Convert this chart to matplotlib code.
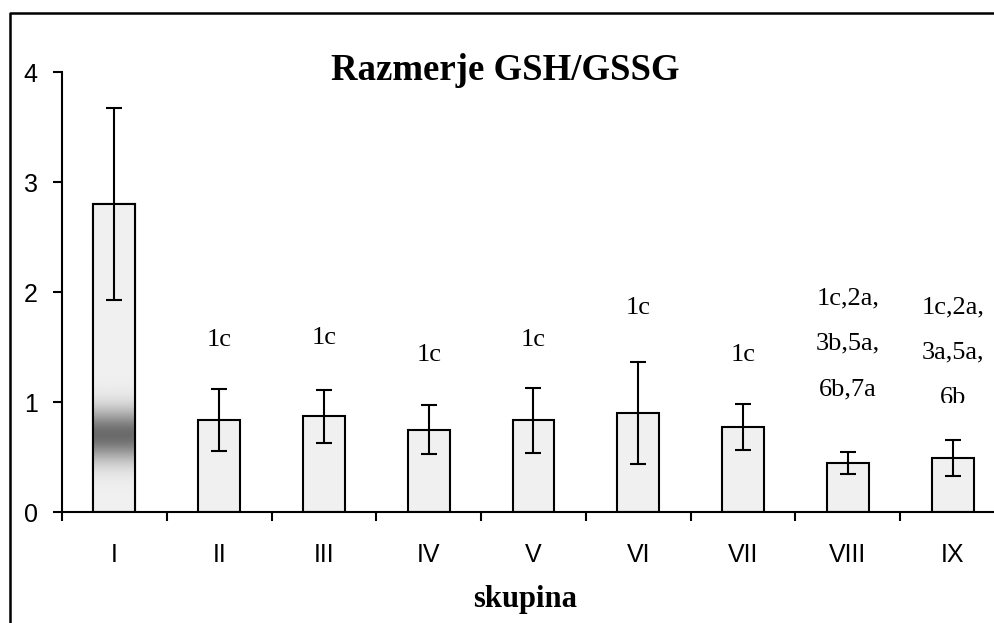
import matplotlib.pyplot as plt
import numpy as np
from matplotlib.lines import Line2D
from matplotlib.transforms import Bbox, TransformedBbox

# Data
groups = ["I", "II", "III", "IV", "V", "VI", "VII", "VIII", "IX"]
ratio = [2.80, 0.835, 0.87, 0.75, 0.835, 0.90, 0.77, 0.445, 0.49]
sd = [0.87, 0.28, 0.24, 0.22, 0.295, 0.46, 0.21, 0.10, 0.165]
labels = ["", "1c", "1c", "1c", "1c", "1c", "1c",
          "1c,2a,\n3b,5a,\n6b,7a", "1c,2a,\n3a,5a,\n6b"]
label_y = [0, 1.56, 1.58, 1.43, 1.56, 1.85, 1.43, 1.53, 1.45]

serif = ["Liberation Serif", "DejaVu Serif"]
sans = ["Liberation Sans", "DejaVu Sans"]

fig = plt.figure(figsize=(9.95, 6.23), dpi=100)
ax = fig.add_axes([62 / 995, 111 / 623, 943 / 995, 440 / 623])

x = np.arange(len(groups))
bars = ax.bar(x, ratio, width=0.4, color="#f0f0f0", edgecolor="black",
              linewidth=1.5, zorder=2)
ax.errorbar(x, ratio, yerr=sd, fmt="none", ecolor="black", elinewidth=1.5,
            capsize=6, capthick=1.5, zorder=4)

# gradient band inside the first bar
b0 = bars[0]
yy = np.linspace(0, b0.get_height(), 400)
shade = 0.94 - 0.52 * np.exp(-((yy - 0.70) / 0.23) ** 2)
img = ax.imshow(shade[:, None], cmap="gray", vmin=0, vmax=1, aspect="auto",
                origin="lower", interpolation="bilinear", zorder=2.5,
                extent=[b0.get_x(), b0.get_x() + b0.get_width(), 0, b0.get_height()])
img.set_clip_path(b0)
ax.bar(x[:1], ratio[:1], width=0.4, color="none", edgecolor="black",
       linewidth=1.5, zorder=3)

# significance labels
for i, (lab, ly) in enumerate(zip(labels, label_y)):
    if not lab:
        continue
    t = ax.text(x[i], ly, lab, ha="center", va="center", fontsize=19,
                family=serif, linespacing=2.38, zorder=5)
    if i == len(groups) - 1:
        # last label is cut off at the bottom in the original
        t.set_clip_box(TransformedBbox(Bbox([[x[i] - 0.5, 0.995], [x[i] + 0.5, 4.5]]),
                                       ax.transData))
        t.set_clip_on(True)

ax.set_xlim(-0.5, 8.5)
ax.set_ylim(0, 4)
ax.set_yticks([0, 1, 2, 3, 4])
ax.set_xticks(x)
ax.set_xticklabels(groups)
ax.set_xticks(np.arange(-0.5, 9, 1), minor=True)
ax.tick_params(axis="x", which="major", length=0, pad=22, labelsize=18)
ax.tick_params(axis="x", which="minor", length=6.5, width=1.5, direction="out")
ax.tick_params(axis="y", length=6.5, width=1.5, direction="out", pad=11, labelsize=18)
for lab in ax.get_xticklabels() + ax.get_yticklabels():
    lab.set_family(sans)

for s in ["top", "right"]:
    ax.spines[s].set_visible(False)
for s in ["left", "bottom"]:
    ax.spines[s].set_linewidth(1.5)

fig.text(505 / 995, 1 - 70 / 623, "Razmerje GSH/GSSG", ha="center", va="center",
         fontsize=26.5, fontweight="bold", family=serif)
fig.text(525 / 995, 1 - 600 / 623, "skupina", ha="center", va="center",
         fontsize=22, fontweight="bold", family=serif)

# outer frame (cut off on the right and bottom)
fig.add_artist(Line2D([10 / 995, 10 / 995, 1.0], [0, 1 - 13 / 623, 1 - 13 / 623],
                      color="black", linewidth=1.8, transform=fig.transFigure))

plt.savefig("out.png", dpi=100)
